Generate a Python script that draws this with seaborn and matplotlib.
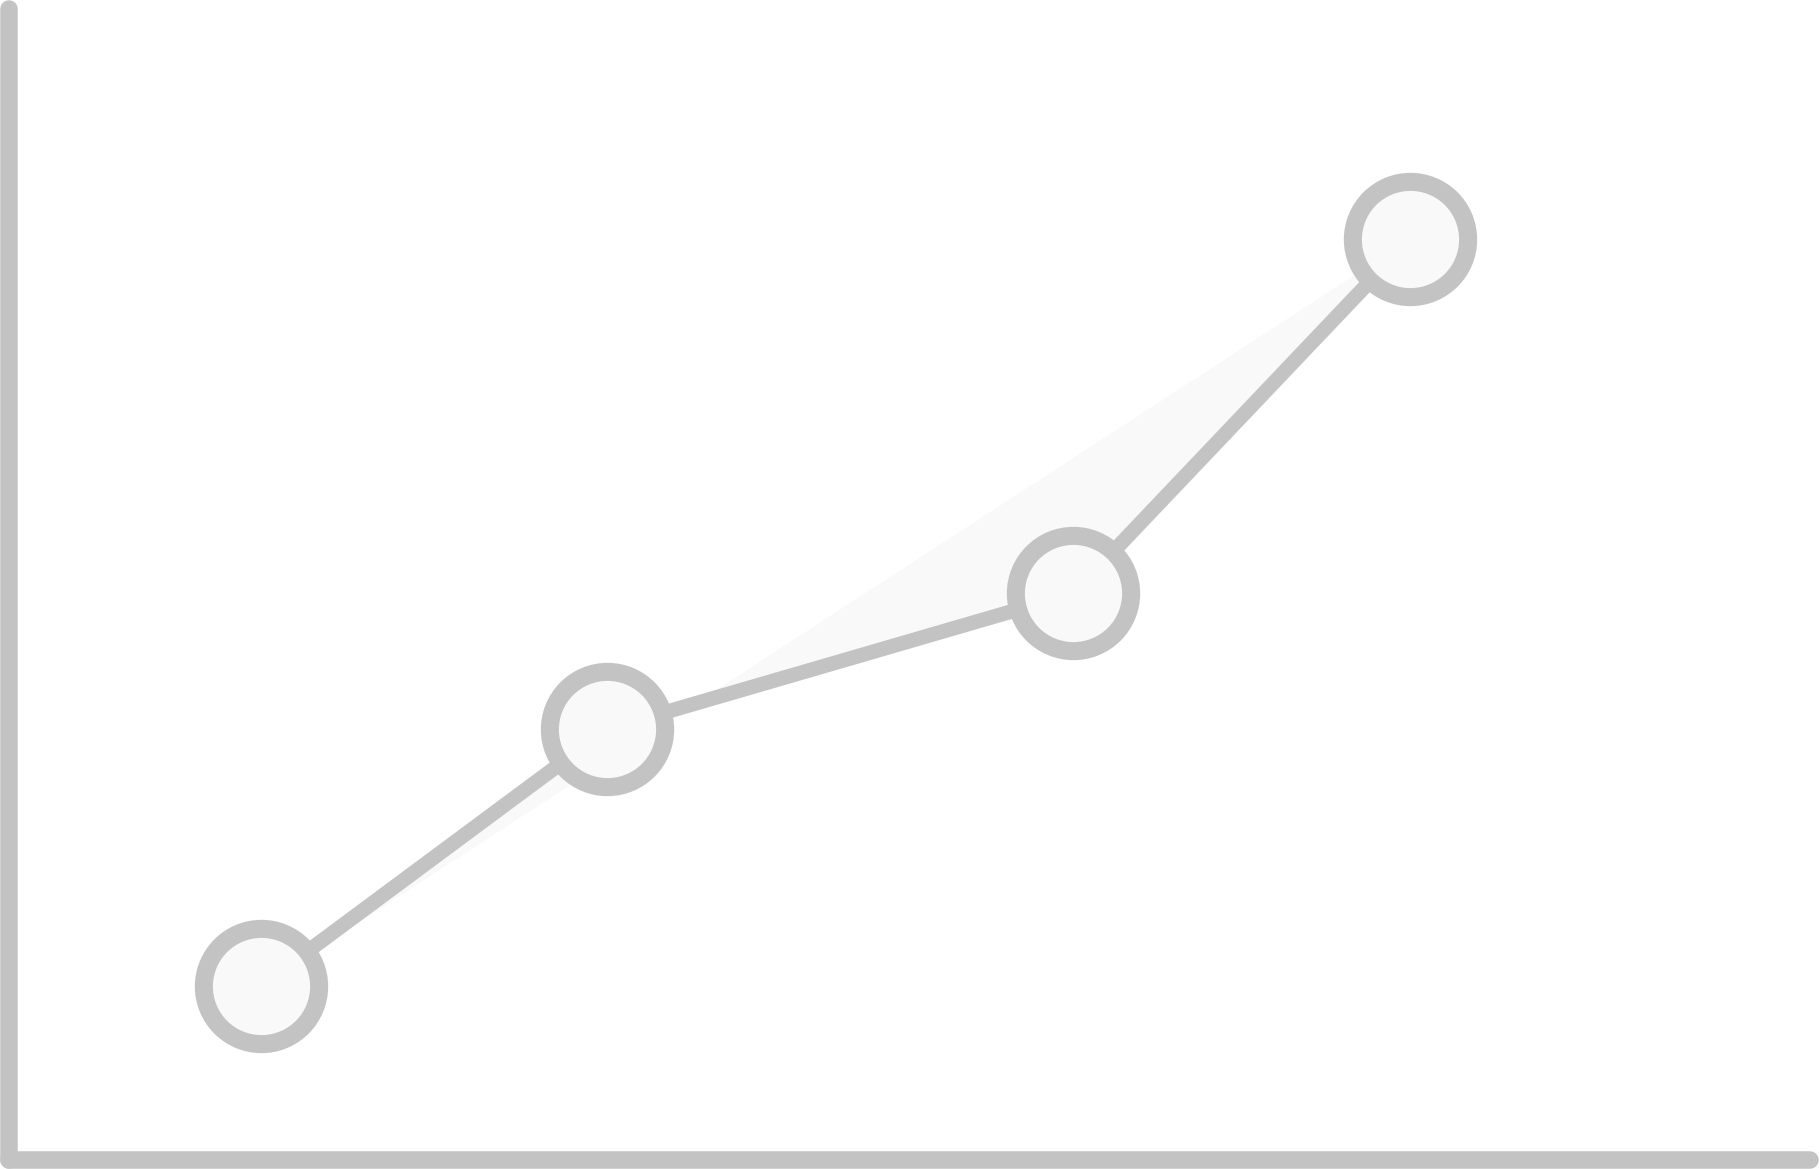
import numpy as np
import matplotlib
matplotlib.use('Agg')
import matplotlib.pyplot as plt
import seaborn as sns

# Data (axes run 0..10 on both sides)
x_vals = [1.40, 3.32, 5.91, 7.78]
y_vals = [1.51, 3.74, 4.92, 8.00]

grey = '#c3c3c3'
light = '#f9f9f9'

sns.set_style('white')

W, H, DPI = 1819, 1169, 100
fig = plt.figure(figsize=(W / DPI, H / DPI), dpi=DPI)
# axes box placed so that the spines sit where the reference lines are
left, right, top, bottom = 9, 1810, 9, 1159.5
ax = fig.add_axes([left / W, (H - bottom) / H, (right - left) / W, (bottom - top) / H])

# closed area under the points
ax.fill(x_vals, y_vals, color=light, zorder=1, linewidth=0)

sns.lineplot(x=x_vals, y=y_vals, ax=ax, color=grey, linewidth=10.5,
             marker='o', markersize=83, markeredgewidth=13,
             markerfacecolor=light, markeredgecolor=grey, zorder=2)

ax.set_xlim(0, 10)
ax.set_ylim(0, 10)
ax.set_xticks([])
ax.set_yticks([])
ax.set_xlabel('')
ax.set_ylabel('')

sns.despine(ax=ax)
for side in ['left', 'bottom']:
    ax.spines[side].set_color(grey)
    ax.spines[side].set_linewidth(12.6)
    ax.spines[side].set_capstyle('round')

fig.savefig('out.png', dpi=DPI)
